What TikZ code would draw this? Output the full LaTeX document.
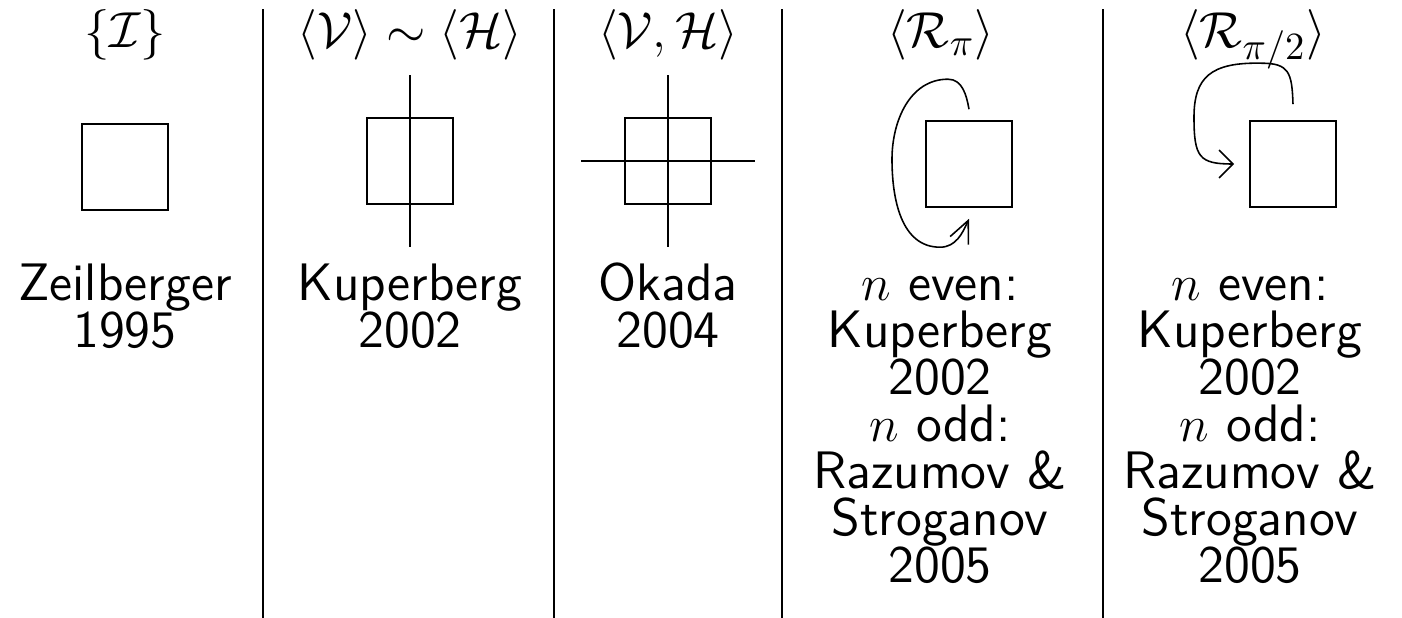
\documentclass[tikz,border=0pt]{standalone}
\usepackage{tikz}
\usetikzlibrary{arrows.meta}

\begin{document}
\begin{tikzpicture}[rule/.style={line width=0.8pt}, cell/.style={draw, line width=0.45pt, minimum size=0.86cm, inner sep=0pt}, sym/.style={font=\fontsize{15.5}{18}\selectfont, anchor=base, inner sep=0pt}, who/.style={font=\sffamily\fontsize{15}{13.4}\selectfont, align=center, anchor=base, inner sep=0pt}]
			\useasboundingbox (0,0) rectangle (14.02,6.18);
			% rules between the columns
			\foreach \x in {2.63,5.54,7.82,11.03}
				\draw[rule] (\x,0) -- (\x,6.09);
			% symmetry classes
			\node[sym] (symI) at (1.25,5.70) {$\{\mathcal{I}\}$};
			\node[sym] (symVH) at (4.10,5.70) {$\langle\mathcal{V}\rangle\sim\langle\mathcal{H}\rangle$};
			\node[sym] (symVaH) at (6.68,5.70) {$\langle\mathcal{V},\mathcal{H}\rangle$};
			\node[sym] (symR) at (9.41,5.70) {$\langle\mathcal{R}_\pi\rangle$};
			\node[sym] (symQ) at (12.53,5.70) {$\langle\mathcal{R}_{\pi/2}\rangle$};
			% the squares
			\node[cell] (sqI) at (1.25,4.51) {};
			\node[cell] (sqV) at (4.10,4.57) {};
			\node[cell] (sqVH) at (6.68,4.57) {};
			\node[cell] (sqR) at (9.69,4.54) {};
			\node[cell] (sqQ) at (12.93,4.54) {};
			% reflection axes
			\draw[line width=0.45pt] ([yshift=4.2mm]sqV.north) -- ([yshift=-4.2mm]sqV.south);
			\draw[line width=0.45pt] ([yshift=4.2mm]sqVH.north) -- ([yshift=-4.2mm]sqVH.south);
			\draw[line width=0.45pt] ([xshift=-4.3mm]sqVH.west) -- ([xshift=4.3mm]sqVH.east);
			% rotations
			\coordinate (rTop) at ([yshift=1.1mm]sqR.north);
			\coordinate (rEnd) at ([yshift=-1.1mm]sqR.south);
			\draw[line width=0.45pt, -{Straight Barb[length=2.2mm,width=2mm]}] (rTop) to[out=100,in=0] ++(-0.21,0.30) to[out=180,in=90] ++(-0.56,-0.80) to[out=-90,in=180] ++(0.48,-0.88) to[out=0,in=-114] (rEnd);
			\coordinate (qTop) at ([yshift=1.6mm]sqQ.north);
			\coordinate (qEnd) at ([xshift=-1.5mm]sqQ.west);
			\draw[line width=0.45pt, -{Straight Barb[length=1.4mm,width=2.8mm]}] (qTop) .. controls +(-0.01,0.32) and +(0.28,0) .. ++(-0.32,0.41) .. controls +(-0.50,0.01) and +(0,0.40) .. ++(-0.67,-0.54) .. controls +(0,-0.40) and +(-0.35,0) .. (qEnd);
			% who enumerated them (base is the last line)
			\node[who] (byI) at (1.25,2.70) {Zeilberger\\1995};
			\node[who] (byV) at (4.10,2.70) {Kuperberg\\2002};
			\node[who] (byVH) at (6.68,2.70) {Okada\\2004};
			\node[who] (byR) at (9.40,0.35) {$n$ even:\\Kuperberg\\2002\\$n$ odd:\\Razumov \&\\Stroganov\\2005};
			\node[who] (byQ) at (12.50,0.35) {$n$ even:\\Kuperberg\\2002\\$n$ odd:\\Razumov \&\\Stroganov\\2005};
\end{tikzpicture}
\end{document}
